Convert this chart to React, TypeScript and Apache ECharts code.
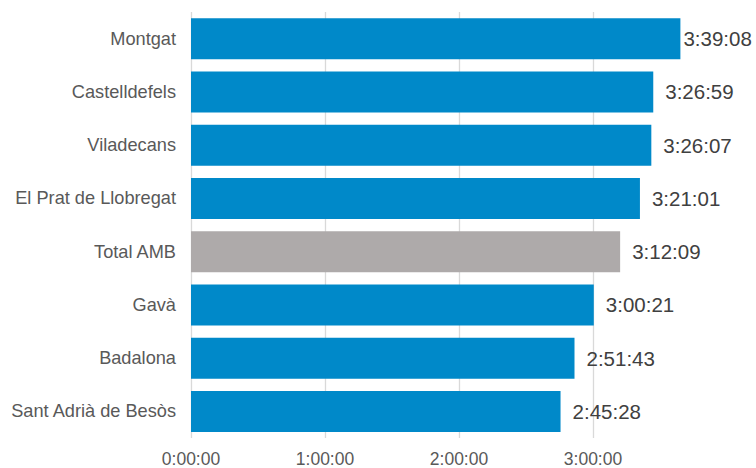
import React, { useEffect, useRef } from "react";
import * as echarts from "echarts";

const categories = [
  "Montgat",
  "Castelldefels",
  "Viladecans",
  "El Prat de Llobregat",
  "Total AMB",
  "Gavà",
  "Badalona",
  "Sant Adrià de Besòs",
];
const durations = [
  "3:39:08",
  "3:26:59",
  "3:26:07",
  "3:21:01",
  "3:12:09",
  "3:00:21",
  "2:51:43",
  "2:45:28",
];
const highlighted = ["Total AMB"];
const tickValues = [0, 3600, 7200, 10800, 14400];

const toSeconds = (s: string) => {
  const [h, m, sec] = s.split(":").map(Number);
  return h * 3600 + m * 60 + sec;
};
const fmt = (v: number) => {
  const h = Math.floor(v / 3600);
  const m = Math.floor((v % 3600) / 60);
  const s = Math.round(v % 60);
  return `${h}:${String(m).padStart(2, "0")}:${String(s).padStart(2, "0")}`;
};

const FONT = "'Liberation Sans', Arial, sans-serif";

export default function App() {
  const ref = useRef<HTMLDivElement>(null);
  useEffect(() => {
    if (!ref.current) return;
    const chart = echarts.init(ref.current, undefined, { renderer: "svg" });
    const cats = [...categories].reverse();
    const durs = [...durations].reverse();
    chart.setOption({
      animation: false,
      grid: { left: 191, right: 29, top: 12, bottom: 28, containLabel: false },
      xAxis: {
        type: "value",
        min: tickValues[0],
        max: tickValues[tickValues.length - 1],
        interval: 3600,
        axisLine: { show: false },
        axisTick: { show: false },
        axisLabel: {
          color: "#595959",
          fontFamily: FONT,
          fontSize: 17.5,
          margin: 12,
          formatter: (v: number) => (v >= tickValues[tickValues.length - 1] ? "" : fmt(v)),
        },
        splitLine: {
          show: true,
          showMaxLine: false,
          lineStyle: {
            color: ["#d9d9d9", "#d9d9d9", "#d9d9d9", "#d9d9d9", "rgba(0,0,0,0)"],
            width: 1.3,
          },
        },
      },
      yAxis: {
        type: "category",
        data: cats,
        axisLine: { show: false },
        axisTick: { show: false },
        axisLabel: {
          color: "#595959",
          fontFamily: FONT,
          fontSize: 18.2,
          margin: 15,
        },
      },
      series: [
        {
          type: "bar",
          barWidth: 41,
          data: cats.map((c, i) => ({
            value: toSeconds(durs[i]),
            itemStyle: { color: highlighted.includes(c) ? "#aeaaaa" : "#0089c9" },
            label: { distance: i === cats.length - 1 ? 3 : 12 },
          })),
          label: {
            show: true,
            position: "right",
            color: "#404040",
            fontFamily: FONT,
            fontSize: 20.5,
            formatter: (p: any) => fmt(p.value),
          },
        },
      ],
    });
    return () => chart.dispose();
  }, []);
  return (
    <div
      ref={ref}
      style={{ position: "fixed", left: 0, top: 0, width: 756, height: 468, background: "#fff" }}
    />
  );
}
